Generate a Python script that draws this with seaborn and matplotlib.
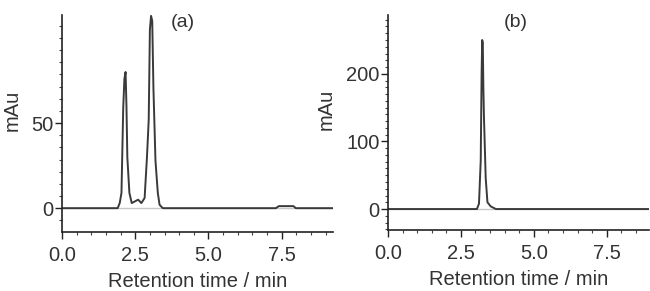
import matplotlib
matplotlib.use("Agg")
import matplotlib.pyplot as plt
from matplotlib.ticker import MultipleLocator, AutoMinorLocator, FixedLocator
import seaborn as sns
import pandas as pd

# chromatogram (a): retention time (min) vs absorbance (mAu)
time_a = [0.0, 1.90, 1.97, 2.03, 2.09, 2.13, 2.17, 2.20, 2.23, 2.30, 2.38,
          2.49, 2.60, 2.71, 2.82, 2.90, 2.96, 3.00, 3.04, 3.08, 3.12, 3.19,
          3.27, 3.33, 3.44, 7.30, 7.40, 7.90, 7.98, 9.25]
mau_a = [0.0, 0.0, 3.0, 9.0, 59.0, 76.0, 80.0, 60.0, 30.0, 9.0, 3.0,
         4.0, 5.0, 3.0, 6.0, 30.0, 52.0, 105.0, 113.0, 110.0, 71.0, 28.0,
         9.0, 2.0, 0.0, 0.0, 1.2, 1.2, 0.0, 0.0]
yticks_a = [0, 50]

# chromatogram (b)
time_b = [0.0, 3.05, 3.12, 3.18, 3.21, 3.23, 3.25, 3.27, 3.29, 3.35, 3.41,
          3.52, 3.70, 8.95]
mau_b = [0.0, 0.0, 8.0, 72.0, 200.0, 250.0, 246.0, 180.0, 137.0, 46.0, 10.0,
         4.0, 0.0, 0.0]
yticks_b = [0, 100, 200]

panel_labels = ["(a)", "(b)"]

sns.set_style("ticks")
plt.rcParams["font.family"] = ["Liberation Sans", "DejaVu Sans"]

fig = plt.figure(figsize=(6.5, 2.91), dpi=100)
ax_a = fig.add_axes([62 / 650, 1 - 232 / 291, 271 / 650, 217 / 291])
ax_b = fig.add_axes([388 / 650, 1 - 230 / 291, 261 / 650, 215 / 291])

df_a = pd.DataFrame({"t": time_a, "y": mau_a})
df_b = pd.DataFrame({"t": time_b, "y": mau_b})

line_col = "#3a3a3a"
txt_col = "#333333"

for ax, df in [(ax_a, df_a), (ax_b, df_b)]:
    ax.axhline(0, color="#c8c8c8", lw=1.0, zorder=1)
    sns.lineplot(data=df, x="t", y="y", ax=ax, color=line_col, lw=1.4,
                 estimator=None, sort=False, zorder=2)
    sns.despine(ax=ax, top=True, right=True)
    for s in ["left", "bottom"]:
        ax.spines[s].set_color("#222222")
        ax.spines[s].set_linewidth(1.2)
    ax.xaxis.set_major_locator(MultipleLocator(2.5))
    ax.xaxis.set_minor_locator(MultipleLocator(0.5))
    ax.xaxis.set_major_formatter(matplotlib.ticker.FormatStrFormatter("%.1f"))
    ax.tick_params(which="major", length=5, width=1.0, color="#222222",
                   labelsize=14.5, labelcolor=txt_col)
    ax.tick_params(which="minor", length=2.5, width=0.8, color="#444444")
    ax.tick_params(axis="x", pad=5)
    ax.tick_params(axis="y", pad=1)
    ax.set_xlabel("Retention time / min", fontsize=14.5, color=txt_col, labelpad=5)
    ax.set_ylabel("mAu", fontsize=14.5, color=txt_col)

ax_a.text(0.445, 0.965, panel_labels[0], transform=ax_a.transAxes,
          ha="center", va="center", fontsize=14, color=txt_col)
ax_b.text(0.49, 0.965, panel_labels[1], transform=ax_b.transAxes,
          ha="center", va="center", fontsize=14, color=txt_col)

ax_a.set_xlim(0, 9.25)
ax_a.set_ylim(-14, 113.5)
ax_a.yaxis.set_major_locator(FixedLocator(yticks_a))
ax_a.yaxis.set_minor_locator(MultipleLocator(50 / 7))
ax_a.yaxis.set_label_coords(-0.15, 0.56)

ax_b.set_xlim(0, 8.95)
ax_b.set_ylim(-31, 287)
ax_b.yaxis.set_major_locator(FixedLocator(yticks_b))
ax_b.yaxis.set_minor_locator(AutoMinorLocator(10))
ax_b.yaxis.set_label_coords(-0.2, 0.56)

fig.savefig("out.png", dpi=100)
